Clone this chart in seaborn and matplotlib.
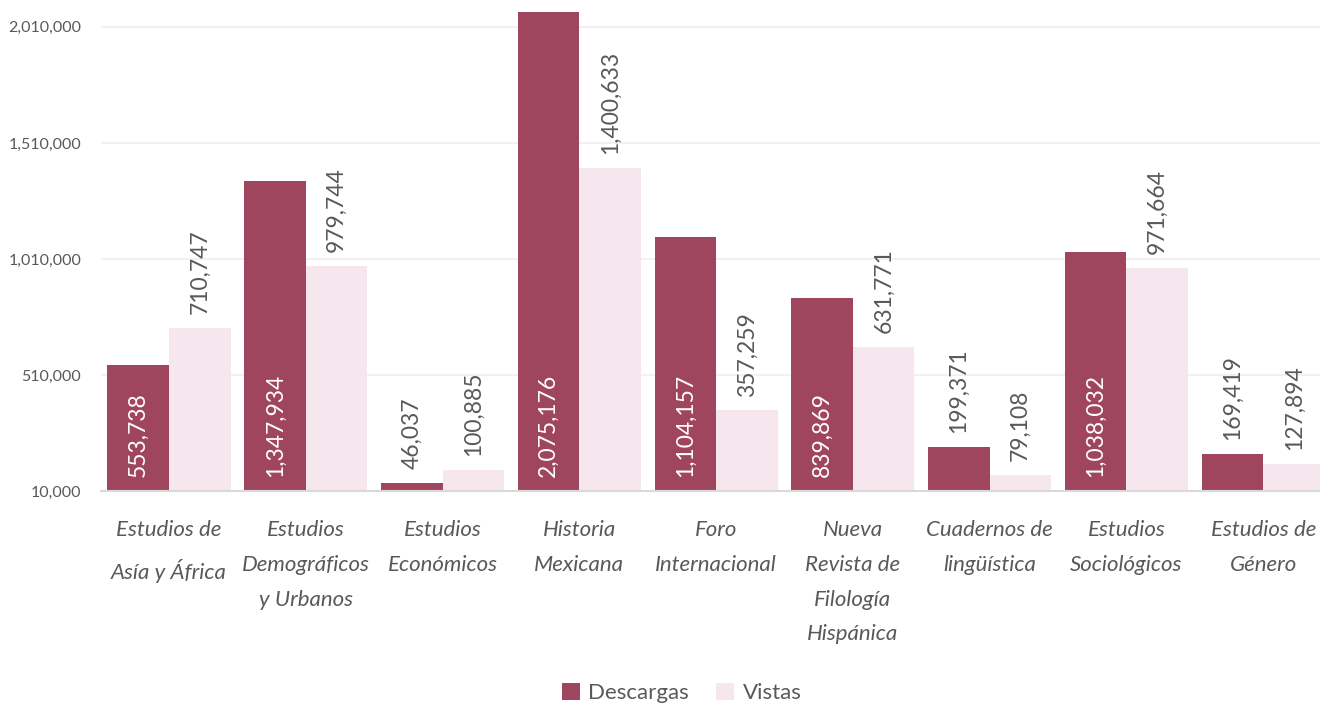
import pandas as pd
import matplotlib.pyplot as plt
import seaborn as sns

# Datos por revista
revistas = ["Estudios de\nAsía y África", "Estudios\nDemográficos\ny Urbanos", "Estudios\nEconómicos",
            "Historia\nMexicana", "Foro\nInternacional", "Nueva\nRevista de\nFilología\nHispánica",
            "Cuadernos de\nlingüística", "Estudios\nSociológicos", "Estudios de\nGénero"]
descargas = [553738, 1347934, 46037, 2075176, 1104157, 839869, 199371, 1038032, 169419]
vistas = [710747, 979744, 100885, 1400633, 357259, 631771, 79108, 971664, 127894]
y_ticks = [10000, 510000, 1010000, 1510000, 2010000]

df = pd.DataFrame({
    "revista": revistas * 2,
    "valor": descargas + vistas,
    "tipo": ["Descargas"] * len(revistas) + ["Vistas"] * len(revistas),
})

sns.set_style("white")
plt.rcParams['font.family'] = ['Lato', 'DejaVu Sans']
gray = "#595959"

fig = plt.figure(figsize=(13.2, 7.04), dpi=100)
ax = fig.add_axes([100.6 / 1320, 1 - 491 / 704, 1231 / 1320, 485 / 704])

sns.barplot(data=df, x="revista", y="valor", hue="tipo", ax=ax, width=0.9,
            palette={"Descargas": "#A0455E", "Vistas": "#F6E6EE"}, saturation=1,
            edgecolor="none", legend=True)

ax.set_ylim(10000, 2100000)
ax.set_xlim(-0.5, 8.5)
ax.set_yticks(y_ticks)
ax.set_yticklabels([f"{v:,}" for v in y_ticks], fontsize=11.5, color=gray)
ax.yaxis.grid(True, color="#EFEFEF", linewidth=1.2)
ax.set_axisbelow(True)
for s in ["top", "right", "left"]:
    ax.spines[s].set_visible(False)
ax.spines["bottom"].set_color("#D9D9D9")
ax.spines["bottom"].set_linewidth(1.5)
ax.tick_params(axis="both", length=0)
ax.tick_params(axis="x", pad=21)
ax.tick_params(axis="y", pad=14)
ax.set_xlabel("")
ax.set_ylabel("")
for lbl in ax.get_xticklabels():
    lbl.set_fontsize(16)
    lbl.set_fontstyle("italic")
    lbl.set_color(gray)
    lbl.set_linespacing(1.92)
    lbl.set_verticalalignment("top")

# Etiquetas de datos
for cont, serie in zip(ax.containers, ["Descargas", "Vistas"]):
    for bar in cont:
        v = bar.get_height()
        x = bar.get_x() + bar.get_width() / 2
        if serie == "Descargas" and v > 400000:
            ax.annotate(f"{v:,.0f}", (x, 10000), xytext=(0, 10), textcoords="offset points",
                        rotation=90, ha="center", va="bottom", color="white", fontsize=16.5)
        else:
            ax.annotate(f"{v:,.0f}", (x, v), xytext=(0, 10), textcoords="offset points",
                        rotation=90, ha="center", va="bottom", color=gray, fontsize=16.5)

ax.legend(loc="center", bbox_to_anchor=(0.472, -0.416), ncol=2, frameon=False,
          handlelength=0.8, handleheight=0.8, handletextpad=0.4, columnspacing=1.2,
          prop={"size": 16}, labelcolor=gray)

fig.savefig("out.png", dpi=100)
